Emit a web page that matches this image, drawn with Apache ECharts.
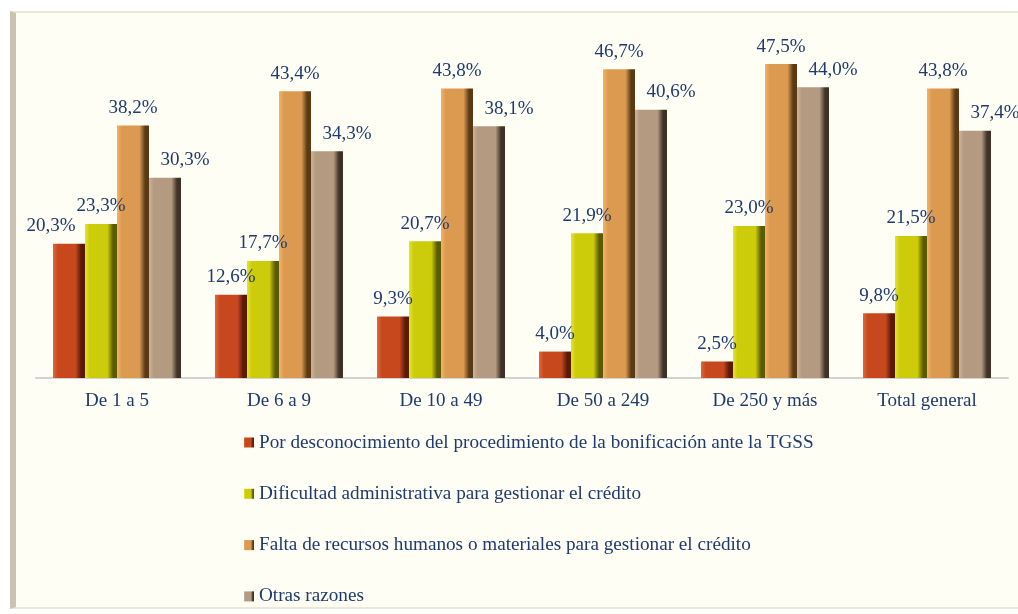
<!DOCTYPE html>
<html>
<head>
<meta charset="utf-8">
<script src="https://cdn.jsdelivr.net/npm/echarts@6/dist/echarts.min.js"></script>
<style>
    html, body { margin: 0; padding: 0; background: #ffffff; }
    #panel {
        position: absolute; left: 10px; top: 11px; width: 1008px; height: 598px;
        background: #fefef5;
        border-left: 6px solid #c9c4b2;
        border-top: 2px solid #ece8d8;
        border-bottom: 2px solid #ece8d8;
        box-sizing: border-box;
    }
    #main { position: absolute; left: 0; top: 0; width: 1018px; height: 614px; }
</style>
</head>
<body>
<div id="panel"></div>
<div id="main"></div>
<script>
// categorías (tamaño de empresa)
var categorias = ["De 1 a 5", "De 6 a 9", "De 10 a 49", "De 50 a 249", "De 250 y más", "Total general"];

// series
var nombres = [
    "Por desconocimiento del procedimiento de la bonificación ante la TGSS",
    "Dificultad administrativa para gestionar el crédito",
    "Falta de recursos humanos o materiales para gestionar el crédito",
    "Otras razones"
];
var desconocimiento = [20.3, 12.6, 9.3, 4.0, 2.5, 9.8];
var dificultad = [23.3, 17.7, 20.7, 21.9, 23.0, 21.5];
var faltaRecursos = [38.2, 43.4, 43.8, 46.7, 47.5, 43.8];
var otras = [30.3, 34.3, 38.1, 40.6, 44.0, 37.4];

var valores = [desconocimiento, dificultad, faltaRecursos, otras];

// colores: claro, base, oscuro
var colores = [
    ["#e0683a", "#c8481e", "#5a1a08"],
    ["#e4e430", "#cccc0a", "#5a5a00"],
    ["#f0b46a", "#dc9a50", "#5a3a14"],
    ["#ccb49a", "#b49a80", "#3e3226"]
];

var textColor = "#1f3a6e";
var fontFam = "'Liberation Serif', 'DejaVu Serif', serif";

var myChart = echarts.init(document.getElementById("main"));

function gradiente(c) {
    return new echarts.graphic.LinearGradient(0, 0, 1, 0, [
        { offset: 0, color: c[0] },
        { offset: 0.15, color: c[1] },
        { offset: 0.7, color: c[1] },
        { offset: 0.88, color: c[2] },
        { offset: 1, color: c[2] }
    ]);
}

// desplazamientos de las etiquetas
var offsets = [[-18, 0], [0, 0], [0, 0], [20, 0]];

var series = [];
nombres.forEach(function (nombre, i) {
    series.push({
        name: nombre,
        type: "bar",
        barWidth: 32,
        barGap: "0%",
        itemStyle: { color: gradiente(colores[i]) },
        label: {
            show: true,
            position: "top",
            distance: 8,
            offset: i === 3 ? offsets[3] : [0, 0],
            color: textColor,
            fontFamily: fontFam,
            fontSize: 19,
            formatter: function (p) {
                return p.value.toFixed(1).replace(".", ",") + "%";
            }
        },
        data: valores[i].map(function (v, j) {
            // la primera etiqueta roja se desplaza a la izquierda
            if (i === 0 && j === 0) {
                return { value: v, label: { offset: offsets[0] } };
            }
            return v;
        })
    });
});

var option = {
    animation: false,
    grid: {
        left: 36,
        right: 10,
        top: 47.5,
        bottom: 236,
        containLabel: false
    },
    legend: {
        orient: "vertical",
        left: 239,
        top: 428,
        icon: "rect",
        itemWidth: 10,
        itemHeight: 10,
        itemGap: 32.3,
        textStyle: {
            color: textColor,
            fontFamily: fontFam,
            fontSize: 19.2,
            lineHeight: 19
        },
        data: nombres
    },
    xAxis: {
        type: "category",
        data: categorias,
        axisTick: { show: false },
        axisLine: { lineStyle: { color: "#d2d2d2", width: 2 } },
        axisLabel: {
            color: textColor,
            fontFamily: fontFam,
            fontSize: 19,
            margin: 14
        }
    },
    yAxis: {
        type: "value",
        min: 0,
        max: 50,
        show: false,
        splitLine: { show: false }
    },
    series: series
};

myChart.setOption(option, true);
</script>
</body>
</html>
